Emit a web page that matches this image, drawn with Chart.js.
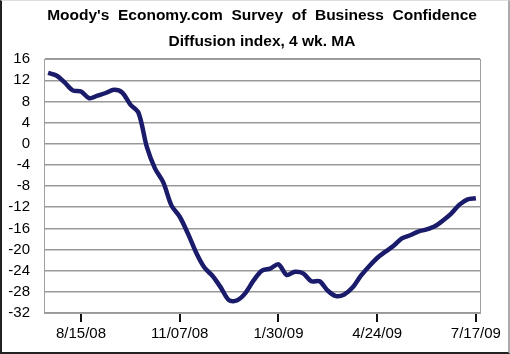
<!DOCTYPE html>
<html>
<head>
<meta charset="utf-8">
<script src="https://cdn.jsdelivr.net/npm/chart.js@4"></script>
<style>
  html, body { margin: 0; padding: 0; background: #fff; }
  #wrap { position: relative; width: 510px; height: 354px; }
  #frame {
    position: absolute; left: 0; top: 0; width: 510px; height: 354px;
    box-sizing: border-box; pointer-events: none;
    border-left: 2px solid #222; border-bottom: 2px solid #222;
    border-top: 1px solid #ddd; border-right: 2px solid #aaa;
  }
</style>
</head>
<body>
<div id="wrap">
  <canvas id="chart" width="510" height="354"></canvas>
  <div id="frame"></div>
</div>
<script>
const ctx1 = document.getElementById('chart').getContext('2d');

// weekly survey dates (Fridays)
const week_labels = [
    '7/18/08', '7/25/08', '8/01/08', '8/08/08', '8/15/08', '8/22/08', '8/29/08',
    '9/05/08', '9/12/08', '9/19/08', '9/26/08', '10/03/08', '10/10/08', '10/17/08',
    '10/24/08', '10/31/08', '11/07/08', '11/14/08', '11/21/08', '11/28/08', '12/05/08',
    '12/12/08', '12/19/08', '12/26/08', '1/02/09', '1/09/09', '1/16/09', '1/23/09',
    '1/30/09', '2/06/09', '2/13/09', '2/20/09', '2/27/09', '3/06/09', '3/13/09',
    '3/20/09', '3/27/09', '4/03/09', '4/10/09', '4/17/09', '4/24/09', '5/01/09',
    '5/08/09', '5/15/09', '5/22/09', '5/29/09', '6/05/09', '6/12/09', '6/19/09',
    '6/26/09', '7/03/09', '7/10/09', '7/17/09'
];

// labels that get printed under the axis
const shown_labels = ['8/15/08', '11/07/08', '1/30/09', '4/24/09', '7/17/09'];

// diffusion index, 4 wk. MA
const confidence = [
    13.4, 12.9, 11.6, 10.1, 9.9, 8.6, 9.1, 9.6, 10.2, 9.7,
    7.4, 5.8, -0.6, -4.7, -7.3, -11.7, -13.8, -17.0, -20.6, -23.4,
    -25.0, -27.2, -29.6, -29.6, -28.2, -25.8, -24.0, -23.6, -22.8, -24.8,
    -24.2, -24.5, -26.0, -26.0, -27.8, -28.8, -28.5, -27.2, -25.0, -23.2,
    -21.6, -20.4, -19.3, -17.9, -17.3, -16.6, -16.2, -15.6, -14.5, -13.2,
    -11.5, -10.5, -10.3
];

const y_ticks = [16, 12, 8, 4, 0, -4, -8, -12, -16, -20, -24, -28, -32];

const plotFrame = {
    id: 'plotFrame',
    afterDraw(chart) {
        const a = chart.chartArea;
        const c = chart.ctx;
        c.save();
        c.strokeStyle = '#a0a0a0';
        c.lineWidth = 1;
        c.strokeRect(Math.round(a.left) + 0.5, Math.round(a.top) + 0.5,
            Math.round(a.right - a.left), Math.round(a.bottom - a.top));
        c.restore();
    }
};

const chart1 = new Chart(ctx1, {
    type: 'line',
    data: {
        labels: week_labels,
        datasets: [{
            label: 'Business Confidence',
            data: confidence,
            borderColor: '#1b1b6b',
            borderWidth: 4.5,
            pointRadius: 0,
            tension: 0.3,
            fill: false,
        }],
    },
    options: {
        responsive: false,
        animation: false,
        layout: { padding: { left: 0, right: 30, top: 0, bottom: 0 } },
        scales: {
            x: {
                type: 'category',
                offset: true,
                grid: {
                    offset: false,
                    drawOnChartArea: false,
                    tickLength: 9,
                    lineWidth: 2,
                    color: (c) => shown_labels.includes(week_labels[c.index]) ? '#111' : 'rgba(0,0,0,0)',
                },
                border: { display: true, color: '#a0a0a0', width: 1 },
                ticks: {
                    autoSkip: false,
                    maxRotation: 0,
                    padding: 3,
                    color: '#000',
                    font: { family: 'Liberation Sans', size: 15 },
                    callback: function (v, i) {
                        const lab = week_labels[i];
                        return shown_labels.includes(lab) ? lab : '';
                    }
                },
                afterFit: (s) => { s.height = 41; }
            },
            y: {
                min: -32,
                max: 16,
                afterBuildTicks: (s) => { s.ticks = y_ticks.map(v => ({ value: v })); },
                grid: {
                    color: '#999',
                    lineWidth: 1.5,
                    drawTicks: false,
                },
                border: { display: true, color: '#a0a0a0', width: 1 },
                ticks: {
                    padding: 14,
                    color: '#000',
                    font: { family: 'Liberation Sans', size: 15 },
                },
                afterFit: (s) => { s.width = 44; }
            }
        },
        plugins: {
            legend: { display: false },
            tooltip: { enabled: false },
            title: {
                display: true,
                fullSize: false,
                text: ["Moody's  Economy.com  Survey  of  Business  Confidence", 'Diffusion index, 4 wk. MA'],
                color: '#000',
                font: { family: 'Liberation Sans', size: 15.5, weight: 'bold', lineHeight: 1.65 },
                padding: { top: 3, bottom: 5 },
            }
        }
    },
    plugins: [plotFrame]
});
</script>
</body>
</html>
